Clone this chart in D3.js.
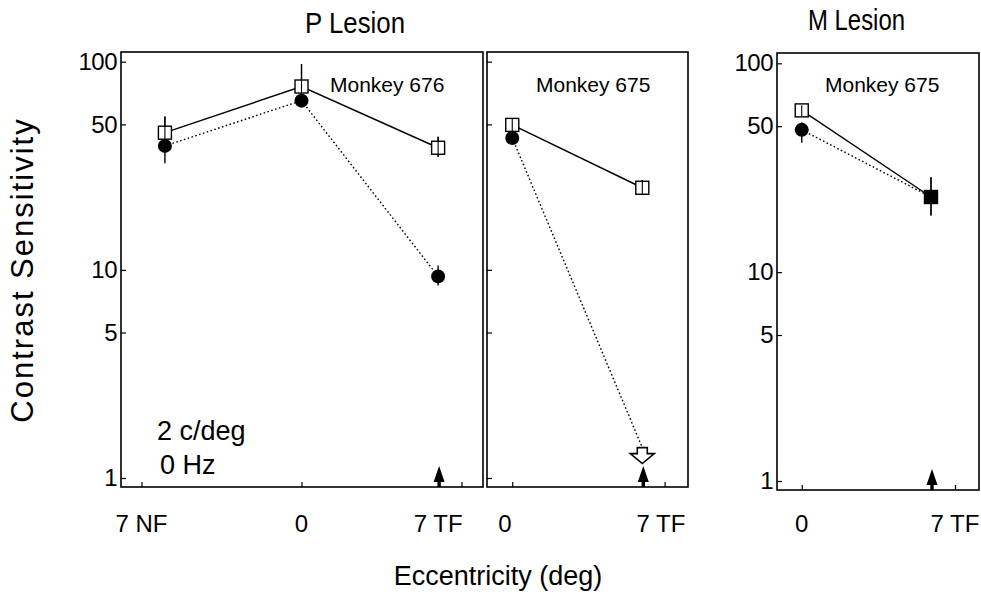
<!DOCTYPE html>
<html>
<head>
<meta charset="utf-8">
<script src="https://cdn.jsdelivr.net/npm/d3@7"></script>
<style>
  body { margin: 0; background: #fff; }
  text { font-family: "Liberation Sans", Arial, sans-serif; fill: #000; }
</style>
</head>
<body>
<svg id="chart" width="981" height="597"></svg>
<script>
// shared y ticks (contrast sensitivity, log)
const yTicks = [1, 5, 10, 50, 100];

// P lesion, monkey 676
const p1X = [-7, 0, 7];
const p1Normal = [45.6, 76, 38.6];
const p1NormalErr = [[41, 54.5], [70, 97.5], [34.9, 43.6]];
const p1Lesion = [39.4, 65, 9.3];
const p1LesionErr = [[32.5, 45], [60.5, 69], [8.4, 10.5]];
const p1Ticks = [-8.2, 0, 8.2];
const p1Labels = ["7 NF", "0", "7 TF"];
const p1LabelAt = [-8.2, 0, 7];

// P lesion, monkey 675
const p2X = [0, 7];
const p2Normal = [49.7, 24.8];
const p2NormalErr = [[46, 53], [23, 27]];
const p2Lesion = [43, 1.4];       // 7 TF value is an upper bound (open arrow)
const p2LesionErr = [[40.5, 45.5], null];
const p2Ticks = [0, 8.2];
const p2Labels = ["0", "7 TF"];
const p2LabelAt = [-0.4, 8];

// M lesion, monkey 675
const p3X = [0, 7];
const p3Normal = [59.5, 22.9];
const p3NormalErr = [[56, 63], [18.7, 28.5]];
const p3Lesion = [48, 22.9];
const p3LesionErr = [[41.7, 52], null];
const p3Ticks = [0, 8.3];
const p3Labels = ["0", "7 TF"];
const p3LabelAt = [0, 8.3];

const svg = d3.select("#chart");

const panels = [
  { left: 121, right: 483, top: 52, bottom: 487, xDomain: [-9.25, 9.3], yRange: [478, 61.7],
    xs: p1X, normal: p1Normal, normalErr: p1NormalErr, lesion: p1Lesion, lesionErr: p1LesionErr,
    ticks: p1Ticks, labels: p1Labels, labelAt: p1LabelAt, showY: true, monkey: "Monkey 676", monkeyX: 330 },
  { left: 487, right: 688, top: 52, bottom: 487, xDomain: [-1.36, 9.46], yRange: [478, 61.7],
    xs: p2X, normal: p2Normal, normalErr: p2NormalErr, lesion: p2Lesion, lesionErr: p2LesionErr,
    ticks: p2Ticks, labels: p2Labels, labelAt: p2LabelAt, showY: false, monkey: "Monkey 675", monkeyX: 536, bound: 1 },
  { left: 777, right: 979, top: 53, bottom: 490, xDomain: [-1.34, 9.6], yRange: [481, 63.3],
    xs: p3X, normal: p3Normal, normalErr: p3NormalErr, lesion: p3Lesion, lesionErr: p3LesionErr,
    ticks: p3Ticks, labels: p3Labels, labelAt: p3LabelAt, showY: true, monkey: "Monkey 675", monkeyX: 825, filledLast: true }
];

panels.forEach(p => {
  const x = d3.scaleLinear().domain(p.xDomain).range([p.left, p.right]);
  const y = d3.scaleLog().domain([1, 100]).range(p.yRange);
  const g = svg.append("g");

  g.append("rect")
    .attr("x", p.left).attr("y", p.top)
    .attr("width", p.right - p.left).attr("height", p.bottom - p.top)
    .attr("fill", "none").attr("stroke", "#000").attr("stroke-width", 1.6);

  const yAxis = d3.axisLeft(y).tickValues(yTicks)
    .tickSizeInner(-5).tickSizeOuter(0).tickPadding(4)
    .tickFormat(p.showY ? d3.format("d") : () => "");
  const ya = g.append("g").attr("transform", `translate(${p.left},0)`).call(yAxis);
  ya.select(".domain").remove();
  ya.selectAll("line").attr("stroke-width", 1.2);
  ya.selectAll("text").attr("font-size", 24).attr("letter-spacing", -0.5);

  // tick marks only; labels placed below
  const xAxis = d3.axisBottom(x).tickValues(p.ticks)
    .tickSizeInner(-5).tickSizeOuter(0).tickFormat(() => "");
  const xa = g.append("g").attr("transform", `translate(0,${p.bottom})`).call(xAxis);
  xa.select(".domain").remove();
  xa.selectAll("line").attr("stroke-width", 1.2);

  g.selectAll(".xl").data(p.labels).enter().append("text")
    .attr("x", (d, i) => x(p.labelAt[i])).attr("y", 532)
    .attr("text-anchor", "middle").attr("font-size", 24).text(d => d);

  // monkey label
  g.append("text").attr("x", p.monkeyX).attr("y", 92)
    .attr("font-size", 21).text(p.monkey);

  // lines
  const line = d3.line().x(d => x(d[0])).y(d => y(d[1]));
  const nPts = p.xs.map((v, i) => [v, p.normal[i]]);
  const lPts = p.xs.map((v, i) => [v, p.lesion[i]]);
  g.append("path").attr("d", line(lPts)).attr("fill", "none")
    .attr("stroke", "#000").attr("stroke-width", 1.4).attr("stroke-dasharray", "1.6,2.4");
  g.append("path").attr("d", line(nPts)).attr("fill", "none")
    .attr("stroke", "#000").attr("stroke-width", 1.4);

  // error bars
  const errs = p.normalErr.map((e, i) => [p.xs[i], e])
    .concat(p.lesionErr.map((e, i) => [p.xs[i], e]))
    .filter(d => d[1]);
  g.selectAll(".err").data(errs).enter().append("line")
    .attr("x1", d => x(d[0])).attr("x2", d => x(d[0]))
    .attr("y1", d => y(d[1][0])).attr("y2", d => y(d[1][1]))
    .attr("stroke", "#000").attr("stroke-width", 1.4);

  // lesion markers (filled circles)
  g.selectAll(".dot").data(lPts.filter((d, i) => i !== p.bound)).enter().append("circle")
    .attr("cx", d => x(d[0])).attr("cy", d => y(d[1])).attr("r", 7)
    .attr("fill", "#000");

  // normal markers (open squares)
  g.selectAll(".sq").data(nPts).enter().append("rect")
    .attr("x", d => x(d[0]) - 6.5).attr("y", d => y(d[1]) - 6.5)
    .attr("width", 13).attr("height", 13)
    .attr("fill", (d, i) => (p.filledLast && i === nPts.length - 1) ? "#000" : "#fff")
    .attr("stroke", "#000").attr("stroke-width", 1.4);
  // error bar shows through the open squares
  g.selectAll(".errTop").data(p.normalErr.map((e, i) => [p.xs[i], e]).filter(d => d[1])).enter().append("line")
    .attr("x1", d => x(d[0])).attr("x2", d => x(d[0]))
    .attr("y1", d => y(d[1][0])).attr("y2", d => y(d[1][1]))
    .attr("stroke", "#000").attr("stroke-width", 1.1);

  // open arrow for upper-bound value
  if (p.bound !== undefined) {
    const bx = x(p.xs[p.bound]), by = y(p.lesion[p.bound]);
    const pts = [[-5, 0], [-5, 6], [-12, 6], [0, 16], [12, 6], [5, 6], [5, 0]];
    g.append("polygon")
      .attr("points", pts.map(d => [bx + d[0], by + d[1]].join(",")).join(" "))
      .attr("fill", "#fff").attr("stroke", "#000").attr("stroke-width", 1.6);
  }

  // filled arrow marking the lesion location at 7 TF
  const ax = x(7) + 1;
  const arrow = [[-1.7, 0], [-1.7, -5], [-5.5, -5], [0, -21], [5.5, -5], [1.7, -5], [1.7, 0]];
  g.append("polygon")
    .attr("points", arrow.map(d => [ax + d[0], p.bottom + d[1]].join(",")).join(" "))
    .attr("fill", "#000");
});

// annotations
svg.append("text").attr("x", 157).attr("y", 440).attr("font-size", 27).text("2 c/deg");
svg.append("text").attr("x", 160).attr("y", 474).attr("font-size", 27).text("0 Hz");

// titles: tall, condensed lettering
svg.append("text").attr("x", 305).attr("y", 33)
  .attr("font-size", 30).attr("textLength", 100).attr("lengthAdjust", "spacingAndGlyphs")
  .text("P Lesion");
svg.append("text").attr("x", 808).attr("y", 30)
  .attr("font-size", 30).attr("textLength", 97).attr("lengthAdjust", "spacingAndGlyphs")
  .text("M Lesion");

svg.append("text").attr("x", 498).attr("y", 585).attr("text-anchor", "middle")
  .attr("font-size", 27).text("Eccentricity (deg)");
svg.append("text")
  .attr("transform", "translate(33,270) rotate(-90)")
  .attr("text-anchor", "middle").attr("font-size", 31).attr("letter-spacing", 2)
  .text("Contrast Sensitivity");
</script>
</body>
</html>
